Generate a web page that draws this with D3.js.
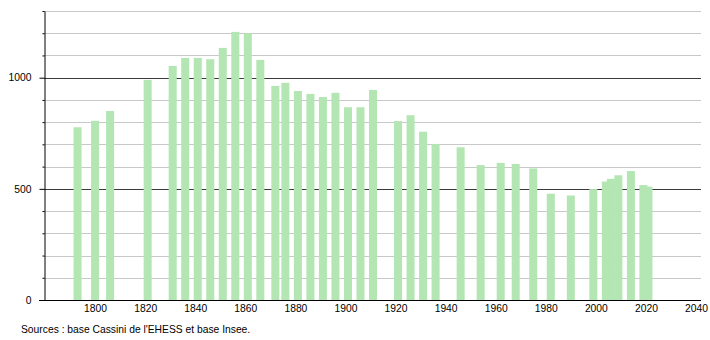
<!DOCTYPE html>
<html>
<head>
<meta charset="utf-8">
<script src="https://cdn.jsdelivr.net/npm/d3@7"></script>
<style>
    body { margin: 0; background: #fff; }
    svg text { font-family: "Liberation Sans", Arial, sans-serif; fill: #000; }
</style>
</head>
<body>
<div id="chart"></div>
<script>
// census years and population
const years = [1793, 1800, 1806, 1821, 1831, 1836, 1841, 1846, 1851, 1856, 1861, 1866, 1872,
    1876, 1881, 1886, 1891, 1896, 1901, 1906, 1911, 1921, 1926, 1931, 1936, 1946, 1954,
    1962, 1968, 1975, 1982, 1990, 1999, 2004, 2006, 2009, 2014, 2019, 2021];
const population = [777, 806, 850, 990, 1053, 1089, 1089, 1083, 1134, 1206, 1200, 1080, 963,
    977, 940, 927, 913, 932, 867, 867, 945, 805, 831, 757, 702, 687, 607,
    617, 612, 592, 478, 470, 499, 533, 545, 561, 580, 517, 510];
const x_ticks = [1800, 1820, 1840, 1860, 1880, 1900, 1920, 1940, 1960, 1980, 2000, 2020, 2040];
const y_grid = [100, 200, 300, 400, 600, 700, 800, 900, 1100, 1200, 1300];
const y_major = [0, 500, 1000];
const source_text = "Sources : base Cassini de l'EHESS et base Insee.";

const svg_settings = { width: 710, height: 340 };
const bar_color = "#b3e6b3";

const data = years.map((y, i) => ({ year: y, value: population[i] }));

const svg = d3.select("#chart")
    .append("svg")
    .attr("width", svg_settings.width)
    .attr("height", svg_settings.height);

const x = d3.scaleLinear().domain([1780, 2042]).range([45, 701]);
const y = d3.scaleLinear().domain([0, 1300]).range([300, 11]);

// light grid lines
svg.append("g")
    .selectAll("line")
    .data(y_grid)
    .join("line")
    .attr("x1", 44)
    .attr("x2", 701)
    .attr("y1", (d) => Math.round(y(d)) + 0.5)
    .attr("y2", (d) => Math.round(y(d)) + 0.5)
    .attr("stroke", "#c8c8c8")
    .attr("stroke-width", 1);

// dark lines at 500 and 1000
svg.append("g")
    .selectAll("line")
    .data([500, 1000])
    .join("line")
    .attr("x1", 44)
    .attr("x2", 701)
    .attr("y1", (d) => Math.round(y(d)) + 0.5)
    .attr("y2", (d) => Math.round(y(d)) + 0.5)
    .attr("stroke", "#3a3a3a")
    .attr("stroke-width", 1);

// bars
const half = 1.6;
svg.append("g")
    .selectAll("rect")
    .data(data)
    .join("rect")
    .attr("x", (d) => x(d.year - half))
    .attr("width", (d) => x(d.year + half) - x(d.year - half))
    .attr("y", (d) => y(d.value))
    .attr("height", (d) => y(0) - y(d.value))
    .attr("fill", bar_color);

// y axis: minor ticks
svg.append("g")
    .attr("transform", "translate(44.5,0)")
    .call(d3.axisLeft(y).tickValues(y_grid).tickSize(2).tickFormat(""))
    .call((g) => g.select(".domain").remove())
    .call((g) => g.selectAll("line").attr("stroke", "#000"));

// y axis: major ticks with labels
svg.append("g")
    .attr("transform", "translate(44.5,0)")
    .call(d3.axisLeft(y).tickValues(y_major).tickSize(5).tickSizeOuter(0).tickPadding(8).tickFormat(d3.format("d")))
    .call((g) => g.select(".domain").attr("stroke", "#000"))
    .call((g) => g.selectAll("text").attr("font-size", 10.3).attr("font-family", null));

// x axis
svg.append("g")
    .attr("transform", "translate(0,300.5)")
    .call(d3.axisBottom(x).tickValues(x_ticks).tickSize(0).tickPadding(4).tickFormat(d3.format("d")))
    .call((g) => g.select(".domain").remove())
    .call((g) => g.selectAll("text").attr("font-size", 10.3).attr("font-family", null));

svg.append("line")
    .attr("x1", 39)
    .attr("x2", 701)
    .attr("y1", 300.5)
    .attr("y2", 300.5)
    .attr("stroke", "#000");

svg.append("text")
    .attr("x", 21)
    .attr("y", 333)
    .attr("font-size", 10.3)
    .text(source_text);
</script>
</body>
</html>
